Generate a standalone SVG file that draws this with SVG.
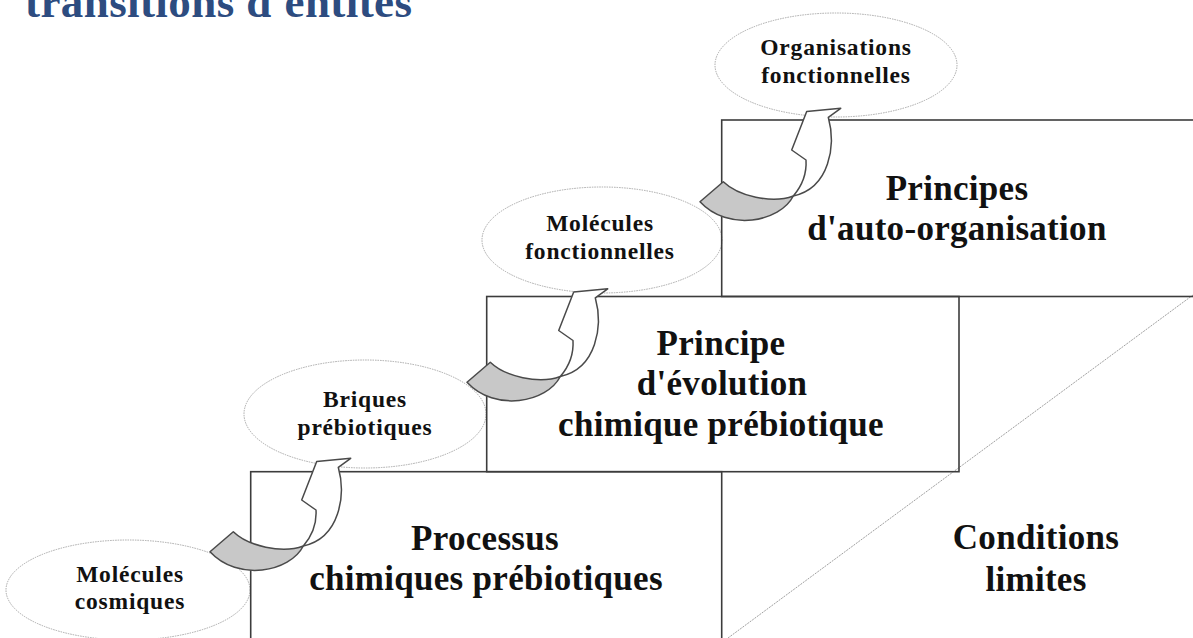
<svg xmlns="http://www.w3.org/2000/svg" xmlns:xlink="http://www.w3.org/1999/xlink" width="1193" height="638" viewBox="0 0 1193 638">
  <style>
    .box { fill: none; stroke: #3c3c3c; stroke-width: 1.6; }
    .ell { fill: #ffffff; stroke: #a8a8a8; stroke-width: 1; stroke-dasharray: 1.5 1; }
    .diag { fill: none; stroke: #a0a0a0; stroke-width: 1; stroke-dasharray: 2 1; }
    .big { font-family: "Liberation Serif", "Times New Roman", serif; font-weight: bold; font-size: 35px; fill: #111; text-anchor: middle; letter-spacing: 0.3px; }
    .small { font-family: "Liberation Serif", "Times New Roman", serif; font-weight: bold; font-size: 23.5px; fill: #111; text-anchor: middle; letter-spacing: 0.8px; }
    .title { font-family: "Liberation Serif", "Times New Roman", serif; font-weight: bold; font-size: 45px; fill: #2d4c80; }
    .arrGray { fill: #c8c8c8; stroke: #4a4a4a; stroke-width: 1.5; stroke-linejoin: round; }
    .arrWhite { fill: #ffffff; stroke: #4a4a4a; stroke-width: 1.5; stroke-linejoin: round; }
  </style>
  <defs>
    <g id="curvedArrow">
      <path class="arrGray" d="M 700,201.7 L 723.3,181.7 C 738,196 772,204 793.3,196 C 780,222 728,232 700,201.7 Z"/>
      <path class="arrWhite" d="M 793.3,196 C 801,187 807,176 806,160 L 791.7,150 L 806.7,111.5 L 840.7,108.3 L 828.3,117.3 C 836,145 830,188 793.3,196 Z"/>
    </g>
  </defs>
  <rect x="0" y="0" width="1193" height="638" fill="#ffffff"/>

  <text class="title" x="25" y="17" textLength="387" lengthAdjust="spacing">transitions d'entités</text>

  <g id="node-molecules-cosmiques">
    <ellipse class="ell" cx="128" cy="590" rx="122" ry="50"/>
  </g>
  <g id="node-briques-prebiotiques">
    <ellipse class="ell" cx="365" cy="414" rx="121" ry="54"/>
  </g>
  <g id="node-molecules-fonctionnelles">
    <ellipse class="ell" cx="602" cy="240" rx="120" ry="53"/>
  </g>
  <g id="node-organisations-fonctionnelles">
    <ellipse class="ell" cx="836" cy="65" rx="121" ry="52"/>
  </g>

  <g id="node-conditions-limites">
    <line class="diag" x1="728" y1="638" x2="1193" y2="295"/>
    <text class="big" x="1036" y="549">Conditions</text>
    <text class="big" x="1036" y="591">limites</text>
  </g>
  <g id="node-auto-organisation">
    <rect class="box" x="721.7" y="120" width="500" height="176.5"/>
    <text class="big" x="957" y="200">Principes</text>
    <text class="big" x="957" y="240">d'auto-organisation</text>
  </g>
  <g id="node-evolution-chimique">
    <rect class="box" x="486.7" y="296.5" width="472.3" height="175.2"/>
    <text class="big" x="721" y="355">Principe</text>
    <text class="big" x="722" y="395">d'évolution</text>
    <text class="big" x="721" y="436">chimique prébiotique</text>
  </g>
  <g id="node-processus-chimiques">
    <rect class="box" x="250.7" y="471.7" width="471" height="200"/>
    <text class="big" x="485" y="550">Processus</text>
    <text class="big" x="486" y="590">chimiques prébiotiques</text>
  </g>

  <g id="labels">
    <text class="small" x="130" y="582">Molécules</text>
    <text class="small" x="130" y="609">cosmiques</text>
    <text class="small" x="365" y="407">Briques</text>
    <text class="small" x="365" y="435">prébiotiques</text>
    <text class="small" x="600" y="231">Molécules</text>
    <text class="small" x="600" y="259">fonctionnelles</text>
    <text class="small" x="836" y="55">Organisations</text>
    <text class="small" x="836" y="83">fonctionnelles</text>
  </g>

  <g id="connectors">
    <use xlink:href="#curvedArrow" transform="translate(-490,350)"/>
    <use xlink:href="#curvedArrow" transform="translate(-233,180.5)"/>
    <use xlink:href="#curvedArrow"/>
  </g>
</svg>
